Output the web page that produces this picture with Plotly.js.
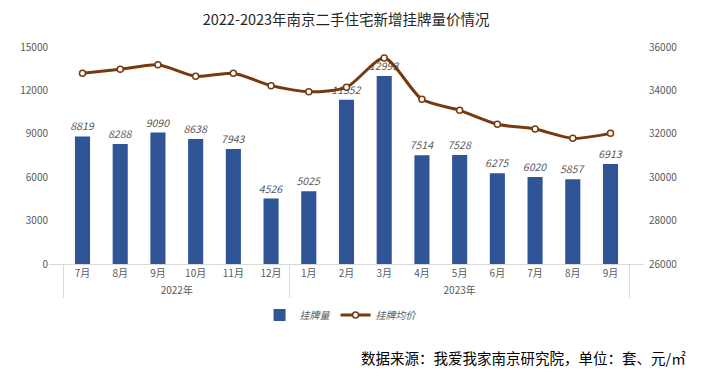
<!DOCTYPE html>
<html>
<head>
<meta charset="utf-8">
<script src="https://cdn.plot.ly/plotly-3.0.1.min.js"></script>
<style>
  html, body { margin: 0; padding: 0; background: #fff; }
  #chart { width: 705px; height: 384px; }
</style>
</head>
<body>
<div id="chart"></div>
<script>
const years = ['2022年','2022年','2022年','2022年','2022年','2022年',
               '2023年','2023年','2023年','2023年','2023年','2023年','2023年','2023年','2023年'];
const months = ['7月','8月','9月','10月','11月','12月',
                '1月','2月','3月','4月','5月','6月','7月','8月','9月'];
const listings = [8819, 8288, 9090, 8638, 7943, 4526, 5025, 11352, 12993, 7514, 7528, 6275, 6020, 5857, 6913];
const avgPrice = [34790, 34970, 35180, 34650, 34790, 34220, 33940, 34140, 35490, 33590, 33080, 32440, 32220, 31790, 32020];
const leftTicks = [0, 3000, 6000, 9000, 12000, 15000];
const rightTicks = [26000, 28000, 30000, 32000, 34000, 36000];

// Plotly orders multicategory children by first appearance; keep the
// repeated month names distinct (invisible zero-width marker) so 2023 stays 1月..9月.
const seenMonths = {};
const monthKeys = months.map(function (m) {
  const k = seenMonths[m] ? m + '\u200B' : m;
  seenMonths[m] = true;
  return k;
});

const FONT = '"Noto Sans CJK SC", "Noto Sans", sans-serif';
const GRAY = '#595959';

const bars = {
  type: 'bar',
  name: '挂牌量',
  x: [years, monthKeys],
  y: listings,
  width: 0.4,
  marker: { color: '#2F5597' },
  text: listings.map(String),
  textposition: 'outside',
  constraintext: 'none',
  cliponaxis: false,
  textfont: { family: FONT, size: 10.5, color: GRAY, style: 'italic' },
  hoverinfo: 'y'
};

const line = {
  type: 'scatter',
  mode: 'lines+markers',
  name: '挂牌均价',
  x: [years, monthKeys],
  y: avgPrice,
  yaxis: 'y2',
  line: { color: '#763A10', width: 3, shape: 'spline', smoothing: 0.7 },
  marker: { symbol: 'circle', size: 6, color: '#ffffff', line: { color: '#763A10', width: 1.5 } },
  cliponaxis: false
};

const layout = {
  width: 705,
  height: 384,
  margin: { l: 48.6, r: 61, t: 47, b: 120 },
  paper_bgcolor: '#ffffff',
  plot_bgcolor: '#ffffff',
  font: { family: FONT, size: 10, color: GRAY },
  title: {
    text: '2022-2023年南京二手住宅新增挂牌量价情况',
    font: { family: FONT, size: 14.5, color: '#262626' },
    x: 0.491, xanchor: 'center', xref: 'container',
    y: 0.948, yanchor: 'middle', yref: 'container'
  },
  showlegend: true,
  legend: {
    orientation: 'h',
    x: 0.49, xanchor: 'center',
    y: -0.235, yanchor: 'middle',
    font: { family: FONT, size: 10, color: GRAY, style: 'italic' },
    itemwidth: 30,
    tracegroupgap: 0
  },
  xaxis: {
    type: 'multicategory',
    showline: true,
    linecolor: '#d9d9d9',
    linewidth: 1,
    showgrid: false,
    ticks: '',
    showdividers: true,
    dividercolor: '#d9d9d9',
    dividerwidth: 1,
    tickfont: { family: FONT, size: 10, color: GRAY },
    fixedrange: true
  },
  yaxis: {
    range: [0, 15000],
    tickvals: leftTicks,
    ticktext: leftTicks.map(String),
    showgrid: false,
    zeroline: false,
    showline: false,
    ticks: '',
    tickfont: { family: FONT, size: 10, color: GRAY },
    fixedrange: true
  },
  yaxis2: {
    overlaying: 'y',
    side: 'right',
    range: [26000, 36000],
    tickvals: rightTicks,
    ticktext: rightTicks.map(String),
    showgrid: false,
    zeroline: false,
    showline: false,
    ticks: '',
    ticklabelstandoff: 4,
    tickfont: { family: FONT, size: 10, color: GRAY },
    fixedrange: true
  },
  annotations: [{
    text: '数据来源：我爱我家南京研究院，单位：套、元/㎡',
    xref: 'paper', yref: 'paper',
    x: 1.074, xanchor: 'right',
    y: -0.4286, yanchor: 'middle',
    showarrow: false,
    font: { family: FONT, size: 14.5, color: '#000000' }
  }]
};

Plotly.newPlot('chart', [bars, line], layout, { displayModeBar: false, staticPlot: true });
</script>
</body>
</html>
